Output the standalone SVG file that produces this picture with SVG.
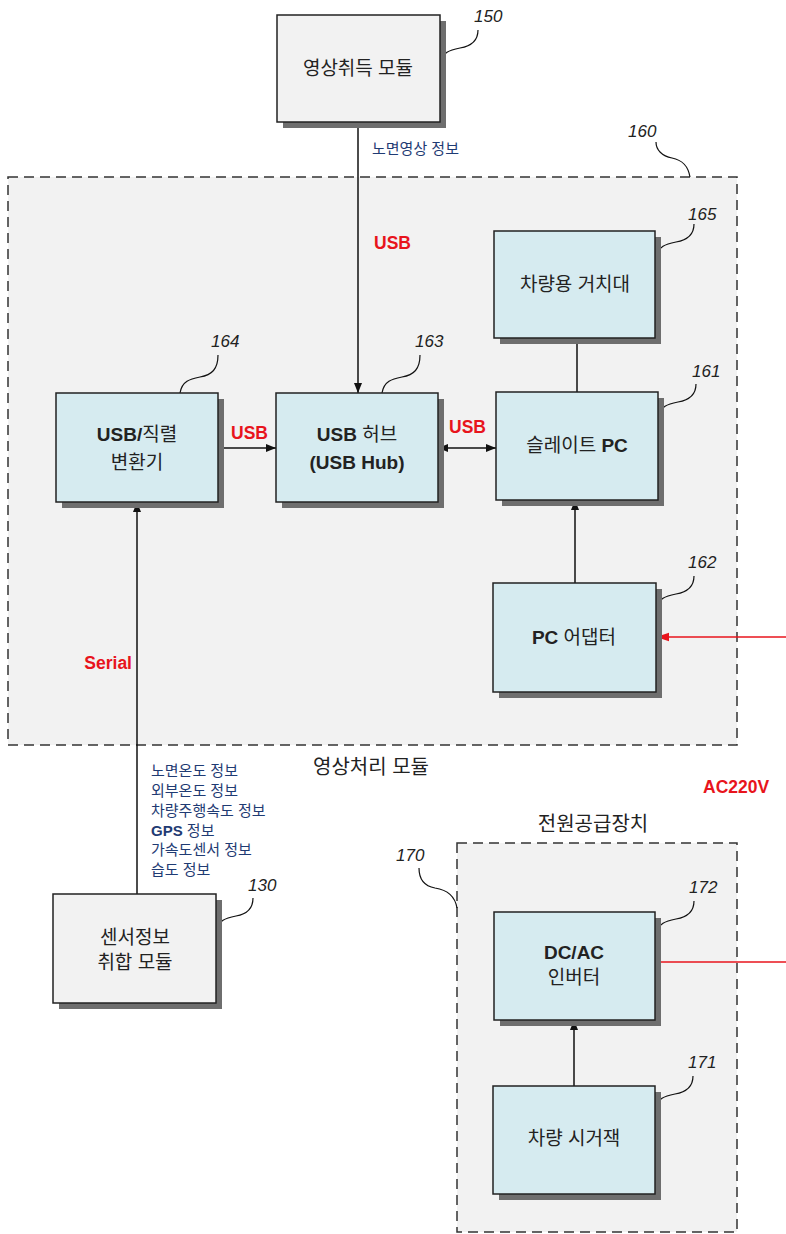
<svg xmlns="http://www.w3.org/2000/svg" width="786" height="1234" viewBox="0 0 786 1234">
<defs>
<marker id="ah" viewBox="0 0 10 10" refX="10" refY="5" markerWidth="10" markerHeight="10" markerUnits="userSpaceOnUse" orient="auto-start-reverse"><path d="M0,1 L10,5 L0,9 Z" fill="#111"/></marker>
<marker id="ahr" viewBox="0 0 12 10" refX="12" refY="5" markerWidth="13" markerHeight="11" markerUnits="userSpaceOnUse" orient="auto"><path d="M0,1 L12,5 L0,9 Z" fill="#e8141c"/></marker>
</defs>
<style>
text{font-family:"Liberation Sans","Noto Sans CJK KR",sans-serif;fill:#222}
.bx{stroke:#222;stroke-width:1.5}
.blue{fill:#d6ebf0}
.gray{fill:#f2f2f2}
.sh{fill:#6e6e6e}
.cont{fill:#f2f2f2;stroke:#333;stroke-width:1.5;stroke-dasharray:10,6}
.t{font-size:19px;text-anchor:middle}
.ct{font-size:20px;text-anchor:middle}
.b{font-weight:bold}
.num{font-size:17px;font-style:italic}
.red{font-size:17.5px;font-weight:bold;fill:#e8141c}
.info{font-size:15px;fill:#1f3b73}
.ln{stroke:#111;stroke-width:1.5;fill:none}
.ld{stroke:#111;stroke-width:1.2;fill:none}
</style>
<g id="container160"><rect class="cont" x="8" y="177" width="729" height="568"/></g>
<g id="container170"><rect class="cont" x="457" y="843" width="280" height="389"/></g>
<g id="connectors">
<line class="ln" x1="358" y1="122" x2="358" y2="393" marker-end="url(#ah)"/>
<line class="ln" x1="218" y1="448" x2="276" y2="448" marker-end="url(#ah)"/>
<line class="ln" x1="438" y1="448" x2="496" y2="448" marker-start="url(#ah)" marker-end="url(#ah)"/>
<line class="ln" x1="577" y1="338" x2="577" y2="392"/>
<line class="ln" x1="575" y1="583" x2="575" y2="500" marker-end="url(#ah)"/>
<line class="ln" x1="137" y1="894" x2="137" y2="502" marker-end="url(#ah)"/>
<line class="ln" x1="574" y1="1086" x2="574" y2="1020" marker-end="url(#ah)"/>
<line x1="786" y1="637" x2="656" y2="637" stroke="#e8141c" stroke-width="1.5" marker-end="url(#ahr)"/>
<line x1="656" y1="962" x2="786" y2="962" stroke="#e8141c" stroke-width="1.5"/>
<path class="ld" d="M440,64 C442,52 450,50 460,48 C472,46 478,40 478,30"/>
<path class="ld" d="M690,177 C688,165 682,160 672,158 C662,156 656,150 656,142"/>
<path class="ld" d="M656,258 C658,246 666,244 676,242 C688,240 694,234 694,224"/>
<path class="ld" d="M658,418 C660,406 668,404 678,402 C690,400 696,394 696,384"/>
<path class="ld" d="M656,610 C658,598 666,596 676,594 C688,592 694,586 694,576"/>
<path class="ld" d="M180,393 C182,381 190,379 200,377 C212,375 218,369 218,355"/>
<path class="ld" d="M382,393 C384,381 392,379 402,377 C414,375 420,369 420,355"/>
<path class="ld" d="M216,932 C218,920 226,918 236,916 C248,914 253,908 253,898"/>
<path class="ld" d="M457,908 C455,896 448,890 435,888 C424,886 419,880 419,868"/>
<path class="ld" d="M656,935 C658,923 666,921 676,919 C688,917 694,911 694,901"/>
<path class="ld" d="M655,1110 C657,1098 665,1096 675,1094 C687,1092 693,1086 693,1076"/>
</g>
<g id="node150"><rect class="sh" x="283" y="21" width="163" height="107"/><rect class="bx gray" x="277" y="15" width="163" height="107"/><text class="t" x="358" y="75">영상취득 모듈</text></g>
<g id="node165"><rect class="sh" x="500" y="237" width="161" height="107"/><rect class="bx blue" x="494" y="231" width="161" height="107"/><text class="t" x="575" y="291">차량용 거치대</text></g>
<g id="node161"><rect class="sh" x="502" y="398" width="162" height="108"/><rect class="bx blue" x="496" y="392" width="162" height="108"/><text class="t" x="577" y="452">슬레이트 <tspan class="b">PC</tspan></text></g>
<g id="node162"><rect class="sh" x="499" y="589" width="163" height="109"/><rect class="bx blue" x="493" y="583" width="163" height="109"/><text class="t" x="574" y="644"><tspan class="b">PC</tspan> 어댑터</text></g>
<g id="node163"><rect class="sh" x="282" y="399" width="162" height="109"/><rect class="bx blue" x="276" y="393" width="162" height="109"/><text class="t" x="357" y="441"><tspan class="b">USB</tspan> 허브</text><text class="t b" x="357" y="469">(USB Hub)</text></g>
<g id="node164"><rect class="sh" x="62" y="399" width="162" height="109"/><rect class="bx blue" x="56" y="393" width="162" height="109"/><text class="t" x="137" y="441"><tspan class="b">USB/</tspan>직렬</text><text class="t" x="137" y="469">변환기</text></g>
<g id="node130"><rect class="sh" x="59" y="900" width="163" height="109"/><rect class="bx gray" x="53" y="894" width="163" height="109"/><text class="t" x="135" y="944">센서정보</text><text class="t" x="135" y="969">취합 모듈</text></g>
<g id="node172"><rect class="sh" x="500" y="918" width="161" height="108"/><rect class="bx blue" x="494" y="912" width="161" height="108"/><text class="t b" x="574" y="959">DC/AC</text><text class="t" x="574" y="984">인버터</text></g>
<g id="node171"><rect class="sh" x="499" y="1092" width="162" height="108"/><rect class="bx blue" x="493" y="1086" width="162" height="108"/><text class="t" x="574" y="1145">차량 시거잭</text></g>
<g id="labels">
<text class="num" x="474" y="22">150</text>
<text class="num" x="628" y="137">160</text>
<text class="num" x="688" y="220">165</text>
<text class="num" x="692" y="377">161</text>
<text class="num" x="688" y="568">162</text>
<text class="num" x="211" y="347">164</text>
<text class="num" x="415" y="347">163</text>
<text class="num" x="248" y="891">130</text>
<text class="num" x="396" y="861">170</text>
<text class="num" x="689" y="893">172</text>
<text class="num" x="688" y="1068">171</text>
<text class="info" x="372" y="154">노면영상 정보</text>
<text class="red" x="374" y="249">USB</text>
<text class="red" x="231" y="439">USB</text>
<text class="red" x="449" y="433">USB</text>
<text class="red" x="132" y="669" text-anchor="end">Serial</text>
<text class="red" x="703" y="793">AC220V</text>
<text class="ct" x="371" y="774">영상처리 모듈</text>
<text class="ct" x="593" y="831">전원공급장치</text>
<text class="info" x="151" y="776">노면온도 정보</text>
<text class="info" x="151" y="796">외부온도 정보</text>
<text class="info" x="151" y="816">차량주행속도 정보</text>
<text class="info" x="151" y="836"><tspan font-weight="bold" fill="#1f3b73">GPS</tspan> 정보</text>
<text class="info" x="151" y="855">가속도센서 정보</text>
<text class="info" x="151" y="875">습도 정보</text>
</g>
</svg>
